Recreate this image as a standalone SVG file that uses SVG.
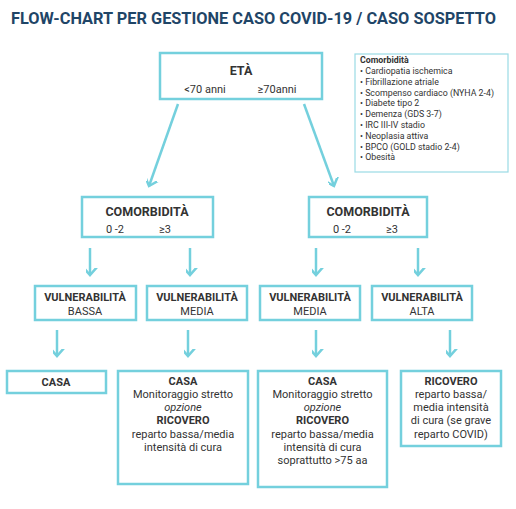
<svg xmlns="http://www.w3.org/2000/svg" width="516" height="509" viewBox="0 0 516 509">
<defs>
<style>
.box{fill:#fff;stroke:#74d0dd;stroke-width:2.5}
.lbox{fill:#fff;stroke:#9adbe5;stroke-width:1.2}
.con{fill:none;stroke:#74d0dd;stroke-width:2.5}
.t{font-family:Roboto,"Liberation Sans",sans-serif;fill:#333;text-anchor:middle;font-size:11px}
.b{font-weight:bold}
.i{font-style:italic}
.h{font-size:12.5px;font-weight:bold}
.l{font-family:Roboto,"Liberation Sans",sans-serif;fill:#333;font-size:8.8px}
.title{font-family:Roboto,"Liberation Sans",sans-serif;font-weight:bold;font-size:17px;fill:#1f4567}
</style>
<marker id="ah" markerWidth="14" markerHeight="14" viewBox="-7 -10 14 14" refX="0" refY="0" orient="auto" markerUnits="userSpaceOnUse">
<path d="M-8,-9 L0,0 L8,-9" fill="none" stroke="#74d0dd" stroke-width="2.5" transform="rotate(-90)"/>
</marker>
</defs>
<rect width="516" height="509" fill="#fff"/>
<text class="title" x="11" y="24" textLength="485" lengthAdjust="spacingAndGlyphs">FLOW-CHART PER GESTIONE CASO COVID-19 / CASO SOSPETTO</text>

<g id="legend">
<rect class="lbox" x="355" y="54" width="153" height="118"/>
<text class="l" x="360" y="63" font-weight="bold">Comorbidità</text>
<text class="l" x="360" y="74">• Cardiopatia ischemica</text>
<text class="l" x="360" y="84.8">• Fibrillazione atriale</text>
<text class="l" x="360" y="95.6">• Scompenso cardiaco (NYHA 2-4)</text>
<text class="l" x="360" y="106.4">• Diabete tipo 2</text>
<text class="l" x="360" y="117.2">• Demenza (GDS 3-7)</text>
<text class="l" x="360" y="128">• IRC III-IV stadio</text>
<text class="l" x="360" y="138.8">• Neoplasia attiva</text>
<text class="l" x="360" y="149.6">• BPCO (GOLD stadio 2-4)</text>
<text class="l" x="360" y="160.4">• Obesità</text>
</g>

<g id="eta">
<rect class="box" x="160" y="53" width="162" height="46"/>
<text class="t h" x="241" y="75">ETÀ</text>
<text class="t" x="205" y="93">&lt;70 anni</text>
<text class="t" x="277" y="93">≥70anni</text>
</g>

<g id="comorb1">
<rect class="box" x="82" y="197" width="131" height="40"/>
<text class="t h" x="147" y="216">COMORBIDITÀ</text>
<text class="t" x="115" y="233">0 -2</text>
<text class="t" x="165" y="233">≥3</text>
</g>
<g id="comorb2">
<rect class="box" x="309" y="197" width="118" height="40"/>
<text class="t h" x="368" y="216">COMORBIDITÀ</text>
<text class="t" x="342" y="233">0 -2</text>
<text class="t" x="392" y="233">≥3</text>
</g>

<g id="vuln1">
<rect class="box" x="35" y="286" width="101" height="34"/>
<text class="t b" x="85" y="301">VULNERABILITÀ</text>
<text class="t" x="85" y="315">BASSA</text>
</g>
<g id="vuln2">
<rect class="box" x="147" y="286" width="100" height="34"/>
<text class="t b" x="197" y="301">VULNERABILITÀ</text>
<text class="t" x="197" y="315">MEDIA</text>
</g>
<g id="vuln3">
<rect class="box" x="260" y="286" width="100" height="34"/>
<text class="t b" x="310" y="301">VULNERABILITÀ</text>
<text class="t" x="310" y="315">MEDIA</text>
</g>
<g id="vuln4">
<rect class="box" x="372" y="286" width="100" height="34"/>
<text class="t b" x="422" y="301">VULNERABILITÀ</text>
<text class="t" x="422" y="315">ALTA</text>
</g>

<g id="out1">
<rect class="box" x="7" y="371" width="99" height="22"/>
<text class="t b" x="56" y="386">CASA</text>
</g>
<g id="out2">
<rect class="box" x="118" y="371" width="130" height="113"/>
<text class="t b" x="183" y="385">CASA</text>
<text class="t" x="183" y="398">Monitoraggio stretto</text>
<text class="t i" x="183" y="411">opzione</text>
<text class="t b" x="183" y="424">RICOVERO</text>
<text class="t" x="183" y="438">reparto bassa/media</text>
<text class="t" x="183" y="451">intensità di cura</text>
</g>
<g id="out3">
<rect class="box" x="258" y="371" width="129" height="116"/>
<text class="t b" x="322.5" y="385">CASA</text>
<text class="t" x="322.5" y="398">Monitoraggio stretto</text>
<text class="t i" x="322.5" y="411">opzione</text>
<text class="t b" x="322.5" y="424">RICOVERO</text>
<text class="t" x="322.5" y="438">reparto bassa/media</text>
<text class="t" x="322.5" y="451">intensità di cura</text>
<text class="t" x="322.5" y="464">soprattutto &gt;75 aa</text>
</g>
<g id="out4">
<rect class="box" x="401" y="371" width="100" height="75"/>
<text class="t b" x="451" y="385">RICOVERO</text>
<text class="t" x="451" y="398">reparto bassa/</text>
<text class="t" x="451" y="411">media intensità</text>
<text class="t" x="451" y="424">di cura (se grave</text>
<text class="t" x="451" y="438">reparto COVID)</text>
</g>

<g id="connectors">
<line class="con" x1="178" y1="104" x2="149" y2="186" marker-end="url(#ah)"/>
<line class="con" x1="304" y1="104" x2="334" y2="186" marker-end="url(#ah)"/>
<line class="con" x1="90" y1="248" x2="90" y2="275" marker-end="url(#ah)"/>
<line class="con" x1="190" y1="248" x2="190" y2="275" marker-end="url(#ah)"/>
<line class="con" x1="316" y1="248" x2="316" y2="275" marker-end="url(#ah)"/>
<line class="con" x1="418" y1="248" x2="418" y2="275" marker-end="url(#ah)"/>
<line class="con" x1="57" y1="330" x2="57" y2="356" marker-end="url(#ah)"/>
<line class="con" x1="188" y1="330" x2="188" y2="356" marker-end="url(#ah)"/>
<line class="con" x1="316" y1="330" x2="316" y2="356" marker-end="url(#ah)"/>
<line class="con" x1="450" y1="330" x2="450" y2="356" marker-end="url(#ah)"/>
</g>
</svg>
